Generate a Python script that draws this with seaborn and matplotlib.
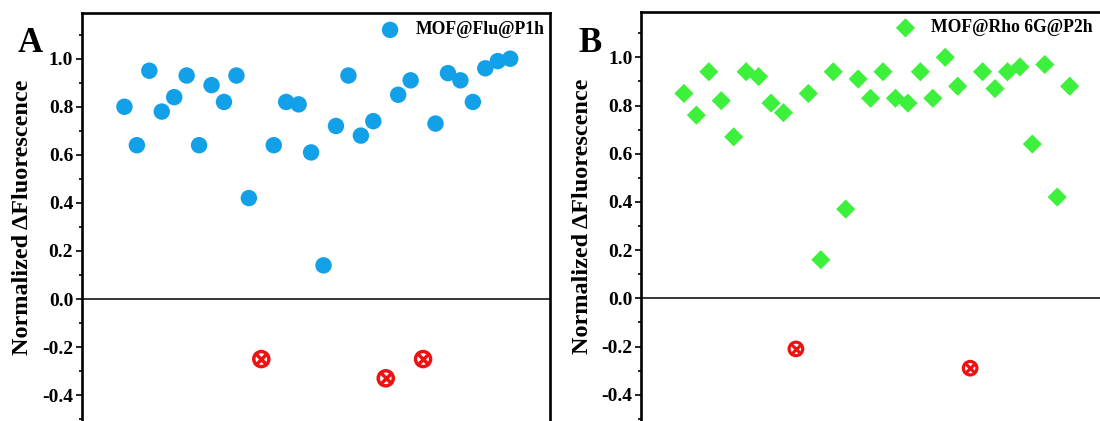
import numpy as np
import pandas as pd
import matplotlib
matplotlib.use("Agg")
import matplotlib.pyplot as plt
from matplotlib.ticker import MultipleLocator
import seaborn as sns

# ---------------- data ----------------
sample_index = list(range(1, 33))
values_A = [0.80, 0.64, 0.95, 0.78, 0.84, 0.93, 0.64, 0.89, 0.82, 0.93, 0.42, -0.25,
            0.64, 0.82, 0.81, 0.61, 0.14, 0.72, 0.93, 0.68, 0.74, -0.33, 0.85, 0.91,
            -0.25, 0.73, 0.94, 0.91, 0.82, 0.96, 0.99, 1.00]
values_B = [0.85, 0.76, 0.94, 0.82, 0.67, 0.94, 0.92, 0.81, 0.77, -0.21, 0.85, 0.16,
            0.94, 0.37, 0.91, 0.83, 0.94, 0.83, 0.81, 0.94, 0.83, 1.00, 0.88, -0.29,
            0.94, 0.87, 0.94, 0.96, 0.64, 0.97, 0.42, 0.88]
label_A = "MOF@Flu@P1h"
label_B = "MOF@Rho 6G@P2h"
panel_letters = ["A", "B"]
y_label = "Normalized \u0394Fluorescence"
y_ticks = [-0.4, -0.2, 0.0, 0.2, 0.4, 0.6, 0.8, 1.0]

sns.set_style("white")
plt.rcParams['font.family'] = ['Liberation Serif', 'DejaVu Serif']
plt.rcParams['font.weight'] = 'bold'
for k in ['text.color', 'axes.labelcolor', 'xtick.color', 'ytick.color', 'axes.edgecolor']:
    plt.rcParams[k] = 'black'

W, H = 1100, 421
fig = plt.figure(figsize=(W / 100, H / 100), dpi=100)

def px_axes(left, right, top_px, bottom_px):
    return fig.add_axes([left / W, 1 - bottom_px / H, (right - left) / W, (bottom_px - top_px) / H])

ylim = (-0.6, 1.19)
xlim = (-2.45, 35.2)

axA = px_axes(81.5, 550, 299 - 1.19 * 240.3, 299 + 0.6 * 240.3)
axB = px_axes(641, 1109.5, 298.3 - 1.19 * 241, 298.3 + 0.6 * 241)

blue = "#12a0e8"
green = "#3cf03c"
red = "#ee1111"

def draw(ax, values, label, marker, color, size, red_size, red_lw):
    df = pd.DataFrame({"x": sample_index, "y": values})
    pos = df[df.y >= 0]
    neg = df[df.y < 0]
    sns.scatterplot(data=pos, x="x", y="y", ax=ax, marker=marker, s=size,
                    color=color, edgecolor="none", linewidth=0, label=label, zorder=3)
    sns.scatterplot(data=neg, x="x", y="y", ax=ax, marker="o", s=red_size,
                    facecolor="none", edgecolor=red, linewidth=red_lw, zorder=3, legend=False)
    sns.scatterplot(data=neg, x="x", y="y", ax=ax, marker="x", s=red_size * 0.5,
                    color=red, linewidth=red_lw, zorder=3, legend=False)
    ax.axhline(0, color="black", lw=1.1, zorder=2)
    ax.set_xlim(*xlim)
    ax.set_ylim(*ylim)
    ax.set_xticks([])
    ax.set_xlabel("")
    ax.set_yticks(y_ticks)
    ax.yaxis.set_minor_locator(MultipleLocator(0.1))
    ax.set_yticklabels([f"{t:.1f}" for t in y_ticks], fontsize=14, fontweight="bold")
    ax.tick_params(axis="y", which="major", direction="out", length=4.5, width=1.2,
                   left=True, right=False, pad=1.5, colors="black")
    ax.tick_params(axis="y", which="minor", direction="out", length=2.5, width=1.2,
                   left=True, right=False, colors="black")
    ax.set_ylabel(y_label, fontsize=17.5, fontweight="bold", color="black")
    ax.yaxis.set_label_coords(-0.1035, 0.526)
    for sp in ax.spines.values():
        sp.set_linewidth(1.9)
        sp.set_color("black")
    ax.set_facecolor("white")

draw(axA, values_A, label_A, "o", blue, 140, 118, 2.5)
draw(axB, values_B, label_B, "D", green, 95, 95, 2.3)

for ax, xr, yc in [(axA, 545, 30), (axB, 1093, 28)]:
    leg = ax.legend(loc="center right", bbox_to_anchor=(xr / W, 1 - yc / H),
                    bbox_transform=fig.transFigure, frameon=False, borderpad=0,
                    borderaxespad=0, handletextpad=0.87, handlelength=1.2,
                    prop={"family": "Liberation Serif", "weight": "bold", "size": 12.7})
    for t in leg.get_texts():
        t.set_color("black")

fig.text(30 / W, 1 - 44 / H, panel_letters[0], fontsize=25, fontweight="bold",
         ha="center", va="center", color="black")
fig.text(590 / W, 1 - 44 / H, panel_letters[1], fontsize=25, fontweight="bold",
         ha="center", va="center", color="black")

fig.savefig("out.png", dpi=100, facecolor="white")
